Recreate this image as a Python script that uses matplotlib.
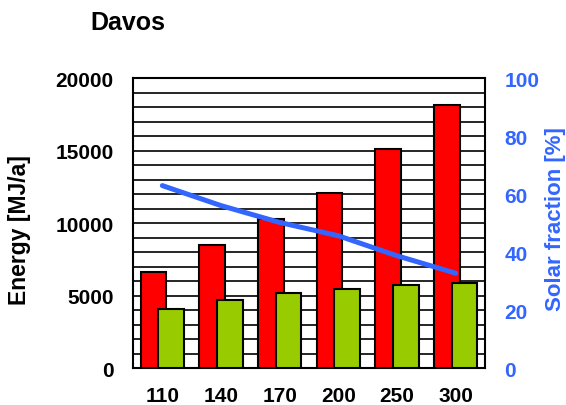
import matplotlib
matplotlib.use('Agg')
import matplotlib.pyplot as plt
import numpy as np

# data
categories = ['110', '140', '170', '200', '250', '300']
energy_red = [6600, 8450, 10250, 12050, 15100, 18150]
energy_green = [4100, 4700, 5150, 5450, 5750, 5850]
solar_fraction = [62.9, 56.0, 50.2, 45.6, 38.7, 32.7]

blue = '#3366FF'
plt.rcParams['font.family'] = ['Liberation Sans', 'DejaVu Sans']
plt.rcParams['font.weight'] = 'bold'

fig = plt.figure(figsize=(5.66, 4.06), dpi=100)
ax = fig.add_axes([0.235, 0.0911, 0.622, 0.7143])

x = np.arange(len(categories))
w = 0.435
ax.bar(x - 0.15, energy_red, w, color='#FF0000', edgecolor='black', linewidth=1.5, zorder=3)
ax.bar(x + 0.15, energy_green, w, color='#99CC00', edgecolor='black', linewidth=1.5, zorder=4)

ax.set_xlim(-0.5, len(categories) - 0.5)
ax.set_ylim(0, 20000)
ax.set_yticks(range(0, 20001, 5000))
ax.set_yticks(range(0, 20001, 1000), minor=True)
ax.grid(True, which='both', axis='y', color='black', linewidth=1.2, zorder=0)
ax.set_axisbelow(True)
ax.set_xticks(x)
ax.set_xticklabels(categories)
ax.tick_params(axis='both', which='both', length=0, labelsize=15)
ax.tick_params(axis='y', pad=14)
ax.tick_params(axis='x', pad=13)
for s in ax.spines.values():
    s.set_linewidth(1.5)
ax.set_ylabel('Energy [MJ/a]', fontsize=16.5, fontweight='bold')
ax.yaxis.set_label_coords(-0.29, 0.479)

# solar fraction on right axis
ax2 = ax.twinx()
ax2.plot(x, solar_fraction, color=blue, linewidth=3.6, solid_capstyle='round', zorder=5)
ax2.set_ylim(0, 100)
ax2.set_yticks(range(0, 101, 20))
ax2.tick_params(axis='y', length=0, labelsize=15, labelcolor=blue, pad=14)
for s in ax2.spines.values():
    s.set_visible(False)
ax2.set_ylabel('Solar fraction [%]', fontsize=16, fontweight='bold', color=blue)
ax2.yaxis.set_label_coords(1.17, 0.517)

fig.text(128 / 566, 1 - 23 / 406, 'Davos', ha='center', va='center', fontsize=18, fontweight='bold')

fig.savefig('out.png', dpi=100)
